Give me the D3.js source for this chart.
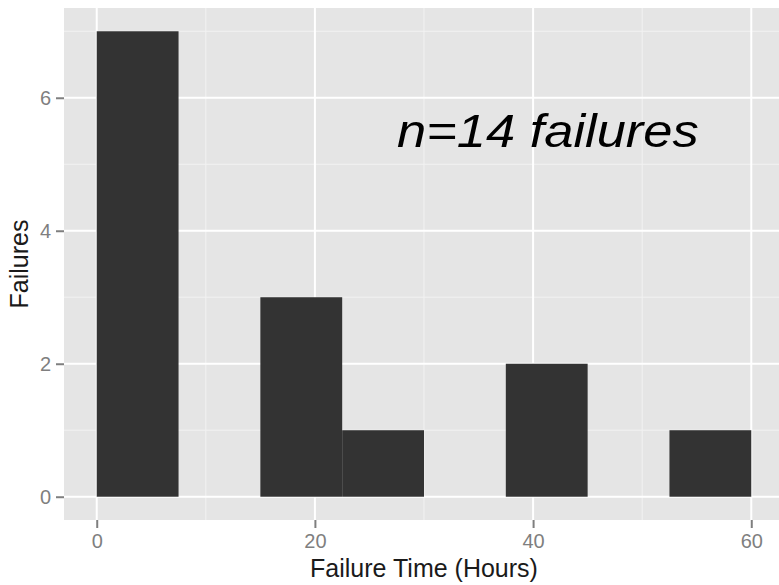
<!DOCTYPE html>
<html lang="en">
<head>
    <meta charset="UTF-8">
    <title>Failure time histogram</title>
    <script src="https://d3js.org/d3.v7.min.js"></script>
    <style>
        body { margin: 0; background: #fff; }
        text { font-family: 'Liberation Sans', Arial, sans-serif; }
    </style>
</head>
<body>
<script>
    const width  = 779;
    const height = 585;

    // histogram bins (hours) and counts
    const binEdges = [0, 7.5, 15, 22.5, 30, 37.5, 45, 52.5, 60];
    const counts   = [7, 0, 3, 1, 0, 2, 0, 1];

    const xTicks = [0, 20, 40, 60];
    const yTicks = [0, 2, 4, 6];
    const xMinor = [10, 30, 50];
    const yMinor = [1, 3, 5, 7];

    const note = "n=14 failures";

    const panel = {left: 64, right: 784, top: 8, bottom: 520};

    const bins = counts.map((c, i) => ({x0: binEdges[i], x1: binEdges[i + 1], n: c}));

    // ggplot style 5% expansion
    const xPad = (binEdges[binEdges.length - 1] - binEdges[0]) * 0.05;
    const yPad = d3.max(counts) * 0.05;

    const x = d3.scaleLinear()
        .domain([binEdges[0] - xPad, binEdges[binEdges.length - 1] + xPad])
        .range([panel.left, panel.right]);

    const y = d3.scaleLinear()
        .domain([-yPad, d3.max(counts) + yPad])
        .range([panel.bottom, panel.top]);

    const svg = d3.select("body").append("svg")
        .attr("width", width).attr("height", height);

    svg.append("rect")
        .attr("x", panel.left).attr("y", panel.top)
        .attr("width", panel.right - panel.left)
        .attr("height", panel.bottom - panel.top)
        .attr("fill", "#e5e5e5");

    // minor grid
    svg.selectAll(".xminor").data(xMinor).enter().append("line")
        .attr("x1", d => x(d)).attr("x2", d => x(d))
        .attr("y1", panel.top).attr("y2", panel.bottom)
        .attr("stroke", "#f2f2f2").attr("stroke-width", 1);
    svg.selectAll(".yminor").data(yMinor).enter().append("line")
        .attr("y1", d => y(d)).attr("y2", d => y(d))
        .attr("x1", panel.left).attr("x2", panel.right)
        .attr("stroke", "#f2f2f2").attr("stroke-width", 1);

    // major grid
    svg.selectAll(".xmajor").data(xTicks).enter().append("line")
        .attr("x1", d => x(d)).attr("x2", d => x(d))
        .attr("y1", panel.top).attr("y2", panel.bottom)
        .attr("stroke", "#fff").attr("stroke-width", 2);
    svg.selectAll(".ymajor").data(yTicks).enter().append("line")
        .attr("y1", d => y(d)).attr("y2", d => y(d))
        .attr("x1", panel.left).attr("x2", panel.right)
        .attr("stroke", "#fff").attr("stroke-width", 2);

    // bars
    svg.selectAll(".bar").data(bins.filter(b => b.n > 0)).enter().append("rect")
        .attr("class", "bar")
        .attr("x", d => x(d.x0))
        .attr("width", d => x(d.x1) - x(d.x0))
        .attr("y", d => y(d.n))
        .attr("height", d => y(0) - y(d.n))
        .attr("fill", "#333333");

    // axes
    const xAxis = svg.append("g")
        .attr("transform", "translate(0," + panel.bottom + ")")
        .call(d3.axisBottom(x).tickValues(xTicks).tickSize(8).tickPadding(6));
    const yAxis = svg.append("g")
        .attr("transform", "translate(" + panel.left + ",0)")
        .call(d3.axisLeft(y).tickValues(yTicks).tickSize(8).tickPadding(5));

    [xAxis, yAxis].forEach(g => {
        g.select(".domain").remove();
        g.selectAll(".tick line").attr("stroke", "#7f7f7f").attr("stroke-width", 2);
        g.selectAll(".tick text")
            .attr("fill", "#7f7f7f")
            .style("font-size", "20px")
            .style("font-family", "'Liberation Sans', Arial, sans-serif");
    });

    // titles
    svg.append("text")
        .text("Failure Time (Hours)")
        .attr("x", (panel.left + panel.right) / 2)
        .attr("y", 577)
        .attr("text-anchor", "middle")
        .style("font-size", "25px")
        .attr("fill", "#1a1a1a");

    svg.append("text")
        .text("Failures")
        .attr("transform", "translate(28," + (panel.top + panel.bottom) / 2 + ") rotate(-90)")
        .attr("text-anchor", "middle")
        .style("font-size", "25px")
        .attr("fill", "#1a1a1a");

    svg.append("text")
        .text(note)
        .attr("transform", "translate(397,147) scale(1.14,1)")
        .style("font-size", "46px")
        .style("font-style", "italic")
        .attr("fill", "#000");
</script>
</body>
</html>
